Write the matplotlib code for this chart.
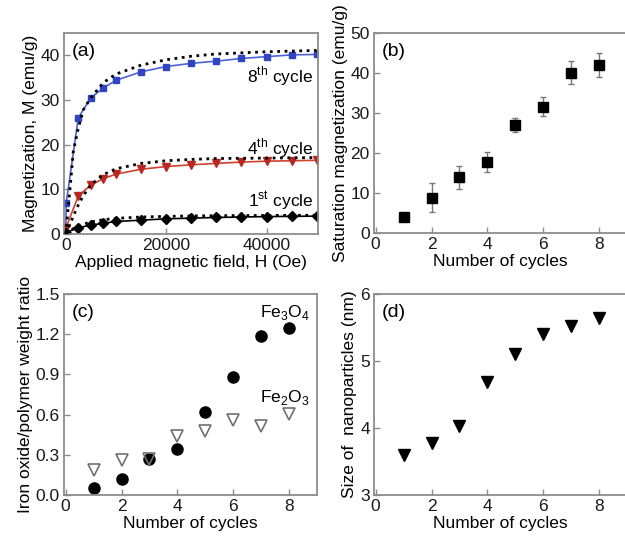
import matplotlib
matplotlib.use("Agg")
import matplotlib.pyplot as plt

plt.rcParams["font.family"] = ["Liberation Sans", "DejaVu Sans"]
plt.rcParams["font.size"] = 12.5
plt.rcParams["mathtext.fontset"] = "custom"
plt.rcParams["mathtext.rm"] = "Liberation Sans"

# (a) magnetization curves
field = [0, 2500, 5000, 7500, 10000, 15000, 20000, 25000, 30000, 35000, 40000, 45000, 50000]
field8 = [0, 100, 2500, 5000, 7500, 10000, 15000, 20000, 25000, 30000, 35000, 40000, 45000, 50000]
m_8th = [0.2, 7.0, 26.0, 30.5, 32.7, 34.4, 36.3, 37.5, 38.2, 38.7, 39.3, 39.7, 40.1, 40.2]
m_4th = [1.3, 8.5, 11.0, 12.4, 13.4, 14.5, 15.1, 15.5, 15.8, 16.1, 16.3, 16.4, 16.5]
m_1st = [0.3, 1.4, 2.0, 2.4, 2.8, 3.1, 3.4, 3.55, 3.7, 3.8, 3.9, 3.95, 4.0]

fit_h = [0, 500, 1000, 1500, 2500, 3500, 5000, 7500, 10000, 15000, 20000, 25000, 30000, 40000, 50000]
fit_8th = [0, 6.0, 12.0, 18.5, 23.7, 27.8, 30.5, 33.9, 35.8, 37.8, 39.0, 39.8, 40.3, 40.8, 41.1]
fit_4th = [0, 1.3, 2.6, 4.0, 6.5, 8.6, 11.0, 13.3, 14.6, 15.8, 16.4, 16.7, 16.9, 17.0, 17.1]
fit_1st = [0, 0.4, 0.8, 1.2, 1.8, 2.2, 2.7, 3.2, 3.5, 3.8, 3.95, 4.05, 4.1, 4.15, 4.2]

# (b) saturation magnetization
cycles = [1, 2, 3, 4, 5, 6, 7, 8]
ms = [4.1, 8.9, 14.0, 17.8, 27.1, 31.6, 40.1, 42.1]
ms_err = [0.8, 3.6, 2.9, 2.4, 1.7, 2.4, 2.8, 3.0]

# (c) weight ratio
fe3o4 = [0.05, 0.12, 0.266, 0.34, 0.617, 0.878, 1.187, 1.25]
fe2o3 = [0.19, 0.26, 0.27, 0.44, 0.475, 0.56, 0.517, 0.605]

# (d) particle size
size_nm = [3.6, 3.77, 4.03, 4.68, 5.1, 5.41, 5.525, 5.645]

spine_col = "#8c8c8c"
W, H = 625, 543
fig = plt.figure(figsize=(W / 100, H / 100), dpi=100)


def box(l, t, r, b):
    return [l / W, 1 - b / H, (r - l) / W, (b - t) / H]


def style(ax):
    for s in ax.spines.values():
        s.set_color(spine_col)
        s.set_linewidth(1.3)
    ax.tick_params(direction="in", length=4, width=1, color=spine_col, pad=3, labelcolor="#1a1a1a")


ax_a = fig.add_axes(box(64, 33, 317.7, 234))
ax_b = fig.add_axes(box(374, 33, 627, 233.3))
ax_c = fig.add_axes(box(64, 294, 317, 495))
ax_d = fig.add_axes(box(374, 294, 627, 495))

# (a)
for fit in (fit_8th, fit_4th, fit_1st):
    ax_a.plot(fit_h, fit, ":", color="k", lw=2.0, zorder=3)
ax_a.plot(field8, m_8th, "-s", color="#4d62d8", mfc="#3145c2", mec="#3145c2", ms=5, lw=1.2, zorder=2)
ax_a.plot(field, m_4th, "-v", color="#d04030", mfc="#b82820", mec="#b82820", ms=6, lw=1.2, zorder=2)
ax_a.plot(field, m_1st, "-D", color="k", ms=5, lw=1.2, zorder=2)
ax_a.set_xlim(-350, 50200)
ax_a.set_ylim(0, 45)
ax_a.set_xticks([0, 20000, 40000])
ax_a.set_yticks([0, 10, 20, 30, 40])
ax_a.set_xlabel("Applied magnetic field, H (Oe)", labelpad=1)
ax_a.set_ylabel("Magnetization, M (emu/g)", labelpad=2)
ax_a.text(0.03, 0.95, "(a)", transform=ax_a.transAxes, ha="left", va="top", fontsize=14)
ax_a.text(49300, 35.3, r"8$^{\mathrm{th}}$ cycle", ha="right", va="center")
ax_a.text(49300, 19.3, r"4$^{\mathrm{th}}$ cycle", ha="right", va="center")
ax_a.text(49300, 7.2, r"1$^{\mathrm{st}}$ cycle", ha="right", va="center")
style(ax_a)

# (b)
ax_b.errorbar(cycles, ms, yerr=ms_err, fmt="s", color="k", ms=7, ecolor="#777777",
              elinewidth=1, capsize=2.5, capthick=1)
ax_b.set_xlim(-0.06, 9)
ax_b.set_ylim(0, 50)
ax_b.set_xticks([0, 2, 4, 6, 8])
ax_b.set_yticks([0, 10, 20, 30, 40, 50])
ax_b.set_xlabel("Number of cycles", labelpad=1)
ax_b.set_ylabel("Saturation magnetization (emu/g)", labelpad=2)
ax_b.text(0.03, 0.95, "(b)", transform=ax_b.transAxes, ha="left", va="top", fontsize=14)
style(ax_b)

# (c)
ax_c.plot(cycles, fe3o4, "o", color="k", ms=8)
ax_c.plot(cycles, fe2o3, "v", mfc="none", mec="#707070", mew=1.2, ms=8.5)
ax_c.set_xlim(-0.06, 9)
ax_c.set_ylim(0, 1.5)
ax_c.set_xticks([0, 2, 4, 6, 8])
ax_c.set_yticks([0.0, 0.3, 0.6, 0.9, 1.2, 1.5])
ax_c.set_yticklabels(["0.0", "0.3", "0.6", "0.9", "1.2", "1.5"])
ax_c.set_xlabel("Number of cycles", labelpad=1)
ax_c.set_ylabel("Iron oxide/polymer weight ratio", labelpad=2)
ax_c.text(0.03, 0.95, "(c)", transform=ax_c.transAxes, ha="left", va="top", fontsize=14)
ax_c.text(6.95, 1.36, r"Fe$_3$O$_4$", ha="left", va="center")
ax_c.text(6.95, 0.73, r"Fe$_2$O$_3$", ha="left", va="center")
style(ax_c)

# (d)
ax_d.plot(cycles, size_nm, "v", color="k", ms=8.5)
ax_d.set_xlim(-0.06, 9)
ax_d.set_ylim(3, 6)
ax_d.set_xticks([0, 2, 4, 6, 8])
ax_d.set_yticks([3, 4, 5, 6])
ax_d.set_xlabel("Number of cycles", labelpad=1)
ax_d.set_ylabel("Size of  nanoparticles (nm)", labelpad=2)
ax_d.text(0.03, 0.95, "(d)", transform=ax_d.transAxes, ha="left", va="top", fontsize=14)
style(ax_d)

fig.savefig("out.png", dpi=100)
